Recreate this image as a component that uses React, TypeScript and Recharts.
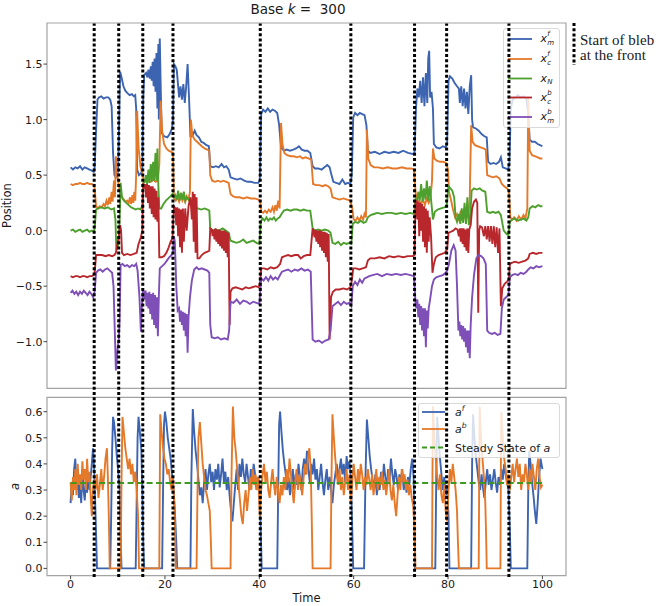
import React from 'react';
import { LineChart, Line, XAxis, YAxis, ReferenceLine, ReferenceArea, Legend } from 'recharts';

type P = [number, number];

const eventTimes = [5.0, 10.2, 15.3, 21.7, 40.2, 59.4, 72.9, 79.7, 92.9];
const timeTicks = [0, 20, 40, 60, 80, 100];
const positionTicks = [-1, -0.5, 0, 0.5, 1, 1.5];
const aTicks = [0, 0.1, 0.2, 0.3, 0.4, 0.5, 0.6];
const steadyStateA = 0.327;
const steadyStateSpan = [0, 100];

// x_m^f
const xmf: P[] = [[0,0.57],[0.5,0.55],[1,0.57],[1.5,0.56],[2,0.58],[2.5,0.55],[3,0.57],[3.5,0.56],[4,0.55],[4.5,0.54],[4.9,0.53],[5.1,0.57],[5.4,0.9],[5.7,1.18],[6,1.2],[6.5,1.21],[7,1.19],[7.5,1.2],[8,1.2],[8.4,1.18],[8.7,1.12],[9,0.7],[9.3,0.5],[9.6,0.48],[10,0.52],[10.1,0.58],[10.3,1.0],[10.5,1.43],[10.8,1.38],[11.2,1.3],[11.6,1.26],[12,1.24],[12.5,1.22],[13,1.23],[13.4,1.21],[13.7,1.22],[13.9,1.1],[14.1,0.55],[14.5,0.5],[15,0.52],[15.2,0.56],[15.4,1.2],[15.6,1.4],[16,1.42],[16.3,1.38],[16.5,1.45],[16.8,1.37],[17,1.48],[17.2,1.35],[17.4,1.52],[17.6,1.3],[17.8,1.55],[18,1.25],[18.2,1.6],[18.4,1.1],[18.6,1.68],[18.7,1.0],[18.9,1.73],[19.1,1.3],[19.3,0.88],[19.8,0.85],[20.5,0.84],[21,0.87],[21.5,0.92],[21.7,1.0],[21.9,1.5],[22.2,1.48],[22.5,1.45],[22.8,1.3],[23,1.2],[23.3,1.3],[23.6,1.18],[23.9,1.32],[24.2,1.15],[24.5,1.3],[24.8,1.5],[25.1,1.2],[25.4,0.85],[25.8,0.85],[26.3,0.9],[26.7,0.86],[27.2,0.84],[27.7,0.8],[28.2,0.79],[28.8,0.77],[29.3,0.76],[29.6,0.58],[30.2,0.57],[30.8,0.58],[31.4,0.57],[32,0.6],[32.5,0.57],[33,0.58],[33.5,0.55],[33.9,0.48],[34.5,0.47],[35.3,0.46],[36,0.47],[36.8,0.45],[37.5,0.44],[38.2,0.44],[39,0.43],[39.8,0.43],[40.1,0.46],[40.4,1.05],[40.8,1.09],[41.3,1.07],[41.8,1.1],[42.3,1.07],[42.8,1.09],[43.3,1.08],[43.8,1.06],[44.2,0.95],[44.6,0.75],[45.2,0.72],[45.8,0.73],[46.5,0.72],[47.2,0.73],[47.8,0.74],[48.4,0.76],[49,0.73],[49.6,0.72],[50.2,0.72],[50.8,0.7],[51.3,0.58],[51.8,0.56],[52.5,0.56],[53.2,0.55],[53.8,0.57],[54.4,0.59],[54.9,0.57],[55.3,0.5],[55.7,0.44],[56.3,0.43],[57,0.42],[57.6,0.46],[58.2,0.42],[58.8,0.43],[59.3,0.42],[59.6,0.5],[59.9,1.02],[60.3,1.06],[60.8,1.04],[61.3,1.06],[61.8,1.05],[62.3,1.04],[62.7,0.95],[63,0.72],[63.5,0.7],[64.5,0.71],[65.5,0.69],[66.5,0.71],[67.5,0.7],[68.5,0.71],[69.5,0.7],[70.5,0.72],[71.5,0.7],[72.5,0.69],[72.9,0.7],[73.2,1.1],[73.5,1.28],[73.8,1.2],[74.1,1.35],[74.4,1.15],[74.7,1.38],[75,1.12],[75.3,1.42],[75.6,1.15],[75.8,1.55],[76,1.62],[76.2,1.2],[76.5,1.25],[76.8,1.1],[77,0.78],[77.5,0.75],[78.2,0.74],[78.9,0.76],[79.5,0.75],[79.8,0.78],[80.1,1.35],[80.4,1.39],[80.9,1.37],[81.4,1.33],[81.9,1.3],[82.3,1.28],[82.5,1.15],[82.8,1.3],[83.1,1.12],[83.4,1.28],[83.7,1.1],[84,1.25],[84.3,1.05],[84.6,1.3],[84.9,1.4],[85.1,1.0],[85.3,0.93],[85.9,0.92],[86.5,0.9],[87.1,0.87],[87.7,0.85],[88.2,0.84],[88.5,0.62],[89,0.6],[89.6,0.61],[90.2,0.6],[90.8,0.62],[91.2,0.66],[91.6,0.57],[92.2,0.56],[92.7,0.55],[93,0.6],[93.3,1.1],[93.7,1.18],[94.2,1.2],[94.8,1.22],[95.4,1.2],[96,1.21],[96.6,1.19],[97,1.05],[97.3,0.82],[97.8,0.8],[98.4,0.8],[99,0.78],[99.5,0.77],[100,0.76]];

// x_c^f
const xcf: P[] = [[0,0.42],[0.5,0.41],[1,0.42],[1.5,0.42],[2,0.43],[2.5,0.42],[3,0.42],[3.5,0.43],[4,0.42],[4.5,0.42],[4.9,0.41],[5.1,0.38],[5.4,0.22],[5.8,0.2],[6.2,0.22],[6.6,0.21],[7,0.24],[7.3,0.22],[7.6,0.27],[7.9,0.23],[8.2,0.3],[8.4,0.24],[8.7,0.35],[8.9,0.26],[9.2,0.45],[9.4,0.3],[9.6,0.67],[9.9,0.5],[10.2,0.41],[10.5,0.34],[10.9,0.3],[11.3,0.28],[11.7,0.26],[12,0.27],[12.3,0.25],[12.6,0.3],[12.8,0.24],[13.1,0.32],[13.3,0.25],[13.5,0.35],[13.7,0.27],[13.9,0.5],[14.1,1.08],[14.4,0.75],[14.8,0.58],[15.2,0.52],[15.5,0.45],[16,0.44],[16.5,0.45],[17,0.44],[17.5,0.46],[18,0.44],[18.5,0.45],[18.8,0.6],[19.1,1.17],[19.4,0.9],[19.8,0.78],[20.3,0.74],[20.8,0.72],[21.3,0.71],[21.7,0.7],[21.9,0.3],[22.3,0.27],[22.7,0.3],[23,0.26],[23.4,0.32],[23.7,0.27],[24,0.3],[24.3,0.26],[24.6,0.31],[25,0.28],[25.3,0.35],[25.5,1.0],[25.8,0.86],[26.3,0.82],[26.8,0.8],[27.3,0.78],[27.8,0.76],[28.4,0.74],[29,0.73],[29.4,0.72],[29.6,0.5],[30,0.45],[30.6,0.44],[31.2,0.45],[31.8,0.44],[32.4,0.45],[33,0.44],[33.5,0.43],[33.9,0.33],[34.4,0.31],[35,0.3],[35.8,0.3],[36.6,0.29],[37.4,0.3],[38.2,0.29],[39,0.29],[39.8,0.28],[40.2,0.26],[40.4,0.17],[40.8,0.16],[41.2,0.18],[41.6,0.16],[42,0.19],[42.4,0.17],[42.8,0.21],[43.1,0.17],[43.4,0.23],[43.7,0.18],[44,0.27],[44.3,0.2],[44.6,0.97],[44.9,0.78],[45.3,0.7],[45.9,0.68],[46.6,0.67],[47.3,0.67],[48,0.66],[48.6,0.67],[49.2,0.65],[49.8,0.66],[50.4,0.65],[51,0.64],[51.4,0.42],[52,0.41],[52.7,0.41],[53.4,0.4],[54,0.41],[54.6,0.4],[55.1,0.38],[55.5,0.3],[56.2,0.29],[57,0.28],[57.8,0.29],[58.6,0.28],[59.3,0.27],[59.7,0.2],[60,0.1],[60.4,0.09],[60.8,0.12],[61.2,0.09],[61.6,0.13],[62,0.1],[62.3,0.15],[62.6,0.12],[62.8,0.91],[63.1,0.65],[63.6,0.59],[64.3,0.57],[65.2,0.57],[66.2,0.56],[67.2,0.57],[68.2,0.56],[69.2,0.56],[70.2,0.57],[71.2,0.56],[72.2,0.56],[72.8,0.55],[73.1,0.35],[73.5,0.25],[73.9,0.27],[74.3,0.24],[74.7,0.28],[75.1,0.23],[75.5,0.29],[75.9,0.25],[76.3,0.3],[76.6,0.45],[76.8,0.74],[77.1,0.65],[77.6,0.63],[78.3,0.62],[79,0.62],[79.6,0.61],[80,0.55],[80.2,0.35],[80.6,0.28],[81,0.2],[81.5,0.12],[81.9,0.15],[82.3,0.1],[82.7,0.18],[83,0.09],[83.4,0.2],[83.7,0.1],[84,0.24],[84.3,0.11],[84.6,0.3],[84.9,0.95],[85.2,0.8],[85.7,0.77],[86.3,0.76],[86.9,0.75],[87.5,0.74],[88,0.73],[88.3,0.5],[88.8,0.49],[89.5,0.48],[90.2,0.49],[90.9,0.47],[91.4,0.42],[91.9,0.4],[92.5,0.38],[92.9,0.36],[93.2,0.12],[93.6,0.1],[94,0.12],[94.5,0.09],[95,0.13],[95.5,0.1],[96,0.14],[96.4,0.11],[96.8,0.2],[97,1.2],[97.3,0.72],[97.8,0.68],[98.4,0.67],[99,0.66],[99.5,0.65],[100,0.65]];

// x_N
const xn: P[] = [[0,0.0],[0.5,0.01],[1,-0.01],[1.5,0.0],[2,0.01],[2.5,-0.01],[3,0.0],[3.5,0.01],[4,-0.01],[4.5,0.0],[4.9,-0.01],[5.1,0.02],[5.4,0.19],[5.8,0.2],[6.5,0.21],[7.2,0.2],[7.9,0.21],[8.6,0.19],[9.2,0.2],[9.5,0.1],[9.7,-0.17],[10.2,-0.12],[10.4,0.1],[10.6,0.43],[10.9,0.3],[11.3,0.27],[11.8,0.25],[12.3,0.23],[12.8,0.21],[13.3,0.2],[13.8,0.19],[14.3,0.2],[14.8,0.19],[15.2,0.22],[15.4,0.43],[15.7,0.44],[16,0.5],[16.2,0.42],[16.5,0.55],[16.7,0.43],[17,0.6],[17.2,0.44],[17.5,0.62],[17.7,0.45],[18,0.7],[18.2,0.45],[18.4,0.74],[18.6,0.4],[18.8,0.2],[19.2,0.2],[19.7,0.24],[20.2,0.27],[20.7,0.29],[21.2,0.31],[21.6,0.33],[21.9,0.3],[22.2,0.32],[22.5,0.28],[22.8,0.36],[23.1,0.27],[23.4,0.34],[23.7,0.28],[24,0.35],[24.3,0.27],[24.6,0.3],[25,0.28],[25.4,0.26],[25.7,0.21],[26.3,0.2],[27,0.2],[27.7,0.19],[28.4,0.2],[29,0.19],[29.4,0.18],[29.6,0.02],[30.2,0.0],[30.8,0.01],[31.5,0.0],[32.2,0.02],[32.9,0.0],[33.5,-0.02],[33.9,-0.09],[34.5,-0.1],[35.2,-0.11],[35.9,-0.1],[36.6,-0.08],[37.3,-0.11],[38,-0.1],[38.7,-0.09],[39.4,-0.11],[40,-0.12],[40.3,0.08],[40.7,0.11],[41.1,0.09],[41.5,0.12],[41.9,0.09],[42.3,0.11],[42.7,0.1],[43.1,0.12],[43.5,0.09],[43.9,0.11],[44.3,0.12],[44.7,0.15],[45.2,0.18],[45.9,0.19],[46.6,0.18],[47.3,0.19],[48,0.19],[48.7,0.18],[49.4,0.19],[50.1,0.18],[50.8,0.18],[51.3,0.02],[51.8,0.0],[52.5,0.01],[53.2,0.0],[53.9,0.01],[54.6,0.0],[55.1,-0.02],[55.5,-0.11],[56.1,-0.12],[56.7,-0.1],[57.3,-0.13],[57.9,-0.11],[58.5,-0.12],[59.1,-0.11],[59.5,-0.12],[59.8,0.06],[60.3,0.08],[60.9,0.07],[61.5,0.09],[62.1,0.07],[62.6,0.08],[63,0.12],[63.6,0.14],[64.3,0.15],[65,0.16],[66,0.15],[67,0.16],[68,0.16],[69,0.15],[70,0.16],[71,0.15],[72,0.16],[72.8,0.15],[73.1,0.28],[73.4,0.26],[73.7,0.35],[74,0.27],[74.3,0.42],[74.6,0.26],[74.9,0.38],[75.2,0.28],[75.5,0.45],[75.8,0.27],[76.1,0.4],[76.4,0.28],[76.8,0.1],[77.2,0.17],[77.8,0.19],[78.5,0.2],[79.2,0.21],[79.7,0.22],[80.1,0.4],[80.5,0.38],[80.9,0.36],[81.3,0.3],[81.6,0.12],[81.9,0.08],[82.3,0.15],[82.6,0.06],[82.9,0.2],[83.2,0.07],[83.5,0.25],[83.8,0.06],[84.1,0.3],[84.4,0.05],[84.7,0.12],[85,0.36],[85.5,0.38],[86.1,0.37],[86.7,0.38],[87.3,0.36],[87.9,0.35],[88.3,0.17],[88.9,0.16],[89.5,0.17],[90.1,0.16],[90.7,0.17],[91.2,0.14],[91.8,0.0],[92.4,-0.03],[92.8,-0.04],[93.1,0.08],[93.6,0.1],[94.2,0.11],[94.8,0.09],[95.4,0.1],[96,0.11],[96.6,0.09],[97,0.12],[97.3,0.2],[97.9,0.22],[98.5,0.21],[99.1,0.23],[99.6,0.22],[100,0.22]];

// x_c^b
const xcb: P[] = [[0,-0.41],[0.5,-0.42],[1,-0.41],[1.5,-0.41],[2,-0.42],[2.5,-0.41],[3,-0.41],[3.5,-0.42],[4,-0.41],[4.5,-0.41],[4.9,-0.4],[5.1,-0.38],[5.4,-0.22],[6,-0.22],[6.7,-0.22],[7.4,-0.23],[8.1,-0.22],[8.8,-0.23],[9.3,-0.22],[9.6,-0.2],[9.9,-0.12],[10.2,-0.06],[10.5,0.05],[10.7,0.0],[10.9,-0.2],[11.3,-0.22],[12,-0.21],[12.7,-0.22],[13.4,-0.21],[14,-0.2],[14.4,-0.12],[14.9,-0.06],[15.2,0.0],[15.4,0.43],[15.6,0.38],[15.8,0.42],[16,0.3],[16.2,0.42],[16.4,0.25],[16.6,0.41],[16.8,0.2],[17,0.4],[17.2,0.15],[17.4,0.4],[17.6,0.12],[17.8,0.38],[18,0.1],[18.2,0.36],[18.4,0.08],[18.6,0.3],[18.8,-0.24],[19.3,-0.24],[19.8,-0.23],[20.3,-0.2],[20.8,-0.15],[21.2,-0.1],[21.6,-0.07],[21.9,0.22],[22.2,0.2],[22.4,0.05],[22.6,0.21],[22.8,-0.05],[23,0.2],[23.2,-0.15],[23.4,0.19],[23.6,-0.2],[23.8,0.2],[24,-0.1],[24.3,0.2],[24.6,0.0],[25,0.22],[25.4,0.3],[25.7,0.1],[25.9,0.35],[26.1,-0.1],[26.3,0.33],[26.5,-0.2],[26.7,0.3],[26.9,-0.25],[27.3,-0.25],[27.8,-0.22],[28.4,-0.2],[29,-0.19],[29.4,-0.18],[29.6,0.02],[29.9,0.01],[30.1,-0.05],[30.3,0.01],[30.5,-0.08],[30.7,0.02],[30.9,-0.1],[31.1,0.01],[31.3,-0.12],[31.5,0.01],[31.7,-0.14],[31.9,0.0],[32.1,-0.16],[32.3,0.0],[32.5,-0.18],[32.7,0.0],[32.9,-0.2],[33.1,-0.01],[33.3,-0.24],[33.5,-0.02],[33.7,-0.85],[33.9,-0.55],[34.3,-0.52],[35,-0.51],[35.7,-0.52],[36.4,-0.53],[37.1,-0.51],[37.8,-0.52],[38.5,-0.51],[39.2,-0.5],[39.9,-0.51],[40.2,-0.45],[40.4,-0.34],[41,-0.34],[41.7,-0.35],[42.4,-0.33],[43.1,-0.34],[43.8,-0.33],[44.4,-0.3],[44.8,-0.24],[45.4,-0.23],[46.1,-0.22],[46.8,-0.23],[47.5,-0.22],[48.2,-0.22],[48.8,-0.25],[49.4,-0.23],[50.1,-0.22],[50.8,-0.22],[51.3,0.02],[51.5,0.0],[51.7,-0.06],[51.9,0.01],[52.1,-0.1],[52.3,0.0],[52.5,-0.12],[52.7,0.0],[52.9,-0.15],[53.1,0.0],[53.3,-0.18],[53.5,-0.01],[53.7,-0.2],[53.9,-0.01],[54.1,-0.24],[54.3,-0.02],[54.5,-0.28],[54.7,-0.03],[54.9,-0.98],[55.2,-0.6],[55.6,-0.55],[56.2,-0.53],[57,-0.53],[57.8,-0.52],[58.6,-0.53],[59.3,-0.51],[59.6,-0.45],[59.9,-0.34],[60.5,-0.34],[61.2,-0.35],[61.9,-0.34],[62.6,-0.33],[63,-0.27],[63.5,-0.25],[64.5,-0.25],[65.5,-0.24],[66.5,-0.25],[67.5,-0.23],[68.5,-0.24],[69.5,-0.23],[70.5,-0.24],[71.5,-0.23],[72.5,-0.23],[72.9,-0.22],[73.1,0.25],[73.3,0.27],[73.5,0.1],[73.7,0.26],[73.9,-0.05],[74.1,0.25],[74.3,0.0],[74.5,0.24],[74.7,-0.1],[74.9,0.22],[75.1,-0.15],[75.3,0.2],[75.5,-0.2],[75.7,0.18],[75.9,-0.1],[76.1,0.12],[76.4,-0.05],[76.7,-0.38],[77,-0.3],[77.4,-0.24],[78,-0.22],[78.7,-0.21],[79.3,-0.2],[79.8,-0.17],[80.1,-0.02],[80.6,-0.01],[81.1,0.0],[81.6,0.02],[82,0.01],[82.3,-0.05],[82.5,0.02],[82.7,-0.1],[82.9,0.02],[83.1,-0.12],[83.3,0.02],[83.5,-0.15],[83.7,0.01],[83.9,-0.18],[84.1,0.02],[84.3,-0.2],[84.5,0.01],[84.8,0.05],[85.1,0.2],[85.5,0.26],[85.9,0.28],[86.2,0.25],[86.4,-0.74],[86.6,0.0],[86.8,0.04],[87.2,0.03],[87.6,-0.05],[87.9,0.04],[88.2,-0.08],[88.5,0.04],[88.8,-0.1],[89.1,0.04],[89.4,-0.12],[89.7,0.04],[90,-0.15],[90.3,0.03],[90.6,-0.2],[90.9,0.02],[91.2,-0.68],[91.5,-0.52],[92,-0.48],[92.5,-0.46],[92.9,-0.44],[93.1,-0.3],[93.5,-0.29],[94.2,-0.28],[95,-0.29],[95.7,-0.28],[96.4,-0.27],[97,-0.25],[97.3,-0.21],[98,-0.2],[98.7,-0.21],[99.3,-0.2],[100,-0.2]];

// x_m^b
const xmb: P[] = [[0,-0.56],[0.4,-0.54],[0.8,-0.57],[1.2,-0.55],[1.6,-0.58],[2,-0.55],[2.4,-0.57],[2.8,-0.54],[3.2,-0.56],[3.6,-0.58],[4,-0.55],[4.4,-0.57],[4.8,-0.6],[5.1,-0.55],[5.4,-0.38],[5.8,-0.36],[6.3,-0.35],[6.8,-0.37],[7.3,-0.35],[7.8,-0.34],[8.3,-0.36],[8.8,-0.38],[9.1,-0.5],[9.4,-0.95],[9.6,-1.26],[9.8,-1.15],[10,-1.04],[10.2,-1.0],[10.4,-0.8],[10.6,-0.31],[11,-0.3],[11.5,-0.32],[12,-0.31],[12.5,-0.33],[13,-0.31],[13.5,-0.32],[13.9,-0.3],[14.2,-0.36],[14.6,-0.6],[14.9,-0.91],[15.1,-0.7],[15.3,-0.55],[15.5,-0.55],[15.7,-0.62],[15.9,-0.54],[16.1,-0.68],[16.3,-0.56],[16.5,-0.7],[16.7,-0.55],[16.9,-0.75],[17.1,-0.57],[17.3,-0.8],[17.5,-0.56],[17.7,-0.85],[17.9,-0.58],[18.1,-0.88],[18.3,-0.6],[18.5,-0.95],[18.7,-0.6],[18.9,-0.34],[19.4,-0.32],[19.9,-0.3],[20.4,-0.27],[20.9,-0.24],[21.4,-0.22],[21.7,-0.2],[21.9,-0.05],[22.1,-0.1],[22.4,-0.5],[22.7,-0.72],[23,-0.7],[23.2,-0.82],[23.4,-0.72],[23.6,-0.85],[23.8,-0.73],[24,-0.9],[24.2,-0.74],[24.4,-0.95],[24.6,-0.75],[24.8,-1.1],[25,-0.78],[25.3,-0.6],[25.7,-0.45],[26.2,-0.35],[26.7,-0.33],[27.2,-0.35],[27.8,-0.34],[28.4,-0.35],[29,-0.36],[29.4,-0.38],[29.6,-0.85],[29.9,-0.96],[30.5,-0.97],[31.2,-0.96],[31.9,-0.98],[32.6,-0.97],[33.3,-0.98],[33.6,-0.9],[33.9,-0.64],[34.5,-0.65],[35.2,-0.62],[35.9,-0.66],[36.6,-0.63],[37.3,-0.64],[38,-0.66],[38.7,-0.64],[39.4,-0.65],[40,-0.66],[40.2,-0.55],[40.4,-0.43],[40.9,-0.45],[41.4,-0.42],[41.9,-0.45],[42.4,-0.41],[42.9,-0.44],[43.4,-0.42],[43.9,-0.44],[44.4,-0.4],[44.8,-0.37],[45.4,-0.36],[46.1,-0.35],[46.8,-0.37],[47.5,-0.35],[48.2,-0.36],[48.9,-0.34],[49.6,-0.36],[50.3,-0.35],[50.9,-0.37],[51.3,-0.98],[51.9,-1.0],[52.6,-0.99],[53.3,-1.01],[54,-0.99],[54.7,-0.98],[55.1,-0.9],[55.5,-0.68],[56.1,-0.66],[56.7,-0.64],[57.3,-0.67],[57.9,-0.64],[58.5,-0.66],[59.1,-0.65],[59.5,-0.68],[59.8,-0.5],[60.3,-0.46],[60.8,-0.49],[61.3,-0.44],[61.8,-0.47],[62.3,-0.43],[62.8,-0.42],[63.3,-0.41],[64,-0.4],[65,-0.39],[66,-0.41],[67,-0.39],[68,-0.4],[69,-0.39],[70,-0.4],[71,-0.39],[72,-0.4],[72.8,-0.41],[73.1,-0.65],[73.3,-0.7],[73.5,-0.62],[73.7,-0.78],[73.9,-0.66],[74.1,-0.85],[74.3,-0.68],[74.5,-0.9],[74.7,-0.7],[74.9,-0.95],[75.1,-0.7],[75.3,-1.05],[75.5,-0.72],[75.7,-0.88],[75.9,-0.7],[76.2,-0.62],[76.6,-0.5],[77,-0.44],[77.5,-0.42],[78.2,-0.41],[78.9,-0.4],[79.5,-0.38],[79.8,-0.36],[80.2,-0.3],[80.7,-0.18],[81.2,-0.13],[81.6,-0.18],[81.9,-0.5],[82.2,-0.9],[82.4,-0.82],[82.6,-0.95],[82.8,-0.85],[83,-0.98],[83.2,-0.86],[83.4,-1.0],[83.6,-0.88],[83.8,-1.05],[84,-0.9],[84.2,-1.1],[84.4,-0.9],[84.6,-1.15],[84.8,-0.85],[85.1,-0.6],[85.5,-0.4],[86,-0.25],[86.5,-0.22],[87,-0.23],[87.5,-0.25],[88,-0.3],[88.3,-0.9],[88.7,-0.92],[89.3,-0.93],[89.9,-0.92],[90.5,-0.94],[91.1,-0.93],[91.4,-0.7],[91.8,-0.62],[92.3,-0.6],[92.8,-0.58],[93.1,-0.42],[93.6,-0.4],[94.2,-0.39],[94.8,-0.4],[95.4,-0.38],[96,-0.39],[96.6,-0.37],[97,-0.35],[97.5,-0.33],[98.1,-0.34],[98.7,-0.32],[99.3,-0.33],[100,-0.32]];

// a^f
const af: P[] = [[0,0.25],[0.25,0.33],[0.5,0.28],[0.75,0.38],[1,0.42],[1.25,0.3],[1.5,0.36],[1.75,0.27],[2,0.32],[2.25,0.25],[2.5,0.38],[2.75,0.3],[3,0.26],[3.25,0.34],[3.5,0.29],[3.75,0.37],[4,0.3],[4.25,0.35],[4.5,0.4],[4.75,0.46],[5,0.38],[5.3,0.2],[5.6,0.0],[8.4,0.0],[8.6,0.2],[8.8,0.45],[9,0.58],[9.2,0.56],[9.5,0.5],[9.8,0.43],[10.1,0.37],[10.4,0.3],[10.6,0.12],[10.8,0.0],[13.8,0.0],[14,0.25],[14.2,0.5],[14.4,0.58],[14.7,0.52],[15,0.45],[15.2,0.3],[15.4,0.1],[15.6,0.0],[19.4,0.0],[19.6,0.3],[19.8,0.55],[20,0.6],[20.3,0.56],[20.6,0.5],[20.9,0.46],[21.2,0.42],[21.5,0.36],[21.8,0.3],[22.1,0.22],[22.4,0.1],[22.6,0.0],[25.4,0.0],[25.6,0.35],[25.9,0.61],[26.2,0.52],[26.5,0.45],[26.8,0.4],[27.1,0.34],[27.4,0.28],[27.7,0.31],[28,0.25],[28.3,0.33],[28.6,0.38],[28.9,0.3],[29.2,0.36],[29.5,0.4],[29.8,0.33],[30.1,0.37],[30.4,0.3],[30.7,0.38],[31,0.34],[31.3,0.4],[31.6,0.31],[31.9,0.36],[32.2,0.42],[32.5,0.33],[32.8,0.37],[33.1,0.3],[33.4,0.35],[33.7,0.28],[34,0.22],[34.3,0.18],[34.6,0.25],[34.9,0.32],[35.2,0.38],[35.5,0.3],[35.8,0.4],[36.1,0.35],[36.4,0.42],[36.7,0.36],[37,0.33],[37.3,0.4],[37.6,0.35],[37.9,0.3],[38.2,0.38],[38.5,0.33],[38.8,0.4],[39.1,0.36],[39.4,0.3],[39.7,0.35],[40,0.32],[40.3,0.15],[40.5,0.0],[43.8,0.0],[44,0.3],[44.2,0.55],[44.4,0.6],[44.7,0.52],[45,0.45],[45.3,0.4],[45.6,0.36],[45.9,0.3],[46.2,0.35],[46.5,0.28],[46.8,0.33],[47.1,0.38],[47.4,0.3],[47.7,0.36],[48,0.32],[48.3,0.4],[48.6,0.35],[48.9,0.3],[49.2,0.38],[49.5,0.42],[49.8,0.36],[50.1,0.45],[50.4,0.38],[50.7,0.33],[51,0.4],[51.3,0.36],[51.6,0.42],[51.9,0.34],[52.2,0.38],[52.5,0.3],[52.8,0.35],[53.1,0.4],[53.4,0.33],[53.7,0.28],[54,0.34],[54.3,0.38],[54.6,0.3],[54.9,0.35],[55.2,0.3],[55.5,0.25],[55.8,0.32],[56.1,0.36],[56.4,0.4],[56.7,0.34],[57,0.38],[57.3,0.42],[57.6,0.36],[57.9,0.4],[58.2,0.33],[58.5,0.43],[58.8,0.38],[59.1,0.41],[59.4,0.35],[59.7,0.15],[59.9,0.0],[62.2,0.0],[62.5,0.35],[62.8,0.57],[63.1,0.5],[63.4,0.43],[63.7,0.38],[64,0.34],[64.3,0.3],[64.6,0.36],[64.9,0.28],[65.2,0.33],[65.5,0.3],[65.8,0.37],[66.1,0.32],[66.4,0.4],[66.7,0.35],[67,0.31],[67.3,0.38],[67.6,0.34],[67.9,0.42],[68.2,0.36],[68.5,0.32],[68.8,0.38],[69.1,0.35],[69.4,0.3],[69.7,0.36],[70,0.33],[70.3,0.38],[70.6,0.3],[70.9,0.34],[71.2,0.29],[71.5,0.35],[71.8,0.32],[72.1,0.38],[72.4,0.42],[72.7,0.35],[72.9,0.15],[73,0.0],[77.3,0.0],[77.5,0.35],[77.7,0.58],[78,0.5],[78.3,0.42],[78.6,0.36],[78.9,0.3],[79.2,0.35],[79.5,0.28],[79.8,0.32],[80.1,0.2],[80.3,0.0],[84.9,0.0],[85.1,0.4],[85.3,0.59],[85.6,0.5],[85.9,0.43],[86.2,0.38],[86.5,0.33],[86.8,0.3],[87.1,0.36],[87.4,0.31],[87.7,0.27],[88,0.33],[88.3,0.38],[88.6,0.32],[88.9,0.36],[89.2,0.3],[89.5,0.34],[89.8,0.38],[90.1,0.33],[90.4,0.29],[90.7,0.35],[91,0.32],[91.3,0.38],[91.6,0.34],[91.9,0.4],[92.2,0.36],[92.5,0.33],[92.8,0.3],[93.1,0.15],[93.3,0.0],[96.8,0.0],[97,0.3],[97.2,0.45],[97.5,0.4],[97.8,0.33],[98.1,0.28],[98.4,0.22],[98.7,0.17],[99,0.25],[99.3,0.35],[99.6,0.42],[100,0.38]];

// a^b
const ab: P[] = [[0,0.33],[0.25,0.26],[0.5,0.35],[0.75,0.3],[1,0.38],[1.25,0.28],[1.5,0.4],[1.75,0.32],[2,0.36],[2.25,0.3],[2.5,0.41],[2.75,0.34],[3,0.38],[3.25,0.3],[3.5,0.42],[3.75,0.33],[4,0.37],[4.25,0.28],[4.5,0.2],[4.75,0.3],[5,0.34],[5.3,0.3],[5.6,0.36],[5.9,0.27],[6.2,0.32],[6.5,0.38],[6.8,0.3],[7.1,0.35],[7.4,0.42],[7.7,0.46],[7.9,0.35],[8.1,0.2],[8.3,0.0],[10.6,0.0],[10.8,0.35],[11,0.58],[11.3,0.52],[11.6,0.46],[11.9,0.42],[12.2,0.38],[12.5,0.42],[12.8,0.36],[13.1,0.4],[13.4,0.33],[13.7,0.37],[14,0.3],[14.3,0.2],[14.5,0.0],[18.8,0.0],[18.9,0.3],[19,0.59],[19.3,0.52],[19.6,0.46],[19.9,0.42],[20.2,0.4],[20.5,0.36],[20.8,0.38],[21.1,0.33],[21.4,0.3],[21.7,0.35],[22,0.25],[22.3,0.0],[26.7,0.0],[26.9,0.3],[27.1,0.5],[27.4,0.56],[27.7,0.48],[28,0.4],[28.3,0.35],[28.6,0.3],[28.9,0.28],[29.2,0.25],[29.5,0.22],[29.7,0.12],[29.9,0.0],[33.9,0.0],[34.1,0.35],[34.4,0.62],[34.7,0.5],[35,0.45],[35.3,0.38],[35.6,0.32],[35.9,0.26],[36.2,0.2],[36.5,0.17],[36.8,0.25],[37.1,0.3],[37.4,0.22],[37.7,0.28],[38,0.35],[38.3,0.3],[38.6,0.38],[38.9,0.32],[39.2,0.36],[39.5,0.3],[39.8,0.35],[40.1,0.2],[40.4,0.3],[40.7,0.36],[41,0.4],[41.3,0.33],[41.6,0.37],[41.9,0.3],[42.2,0.27],[42.5,0.33],[42.8,0.38],[43.1,0.32],[43.4,0.28],[43.7,0.35],[44,0.3],[44.3,0.25],[44.6,0.32],[44.9,0.28],[45.2,0.35],[45.5,0.3],[45.8,0.38],[46.1,0.33],[46.4,0.42],[46.7,0.36],[47,0.3],[47.3,0.25],[47.6,0.33],[47.9,0.38],[48.2,0.3],[48.5,0.36],[48.8,0.32],[49.1,0.28],[49.4,0.35],[49.7,0.4],[50,0.36],[50.3,0.42],[50.6,0.46],[50.9,0.38],[51.1,0.2],[51.3,0.0],[55.1,0.0],[55.3,0.35],[55.5,0.59],[55.8,0.5],[56.1,0.42],[56.4,0.36],[56.7,0.32],[57,0.38],[57.3,0.3],[57.6,0.35],[57.9,0.28],[58.2,0.33],[58.5,0.38],[58.8,0.3],[59.1,0.36],[59.4,0.25],[59.7,0.33],[60,0.4],[60.3,0.35],[60.6,0.3],[60.9,0.38],[61.2,0.33],[61.5,0.4],[61.8,0.36],[62.1,0.3],[62.4,0.35],[62.7,0.32],[63,0.38],[63.3,0.34],[63.6,0.3],[63.9,0.36],[64.2,0.28],[64.5,0.33],[64.8,0.38],[65.1,0.3],[65.4,0.35],[65.7,0.32],[66,0.37],[66.3,0.3],[66.6,0.34],[66.9,0.28],[67.2,0.33],[67.5,0.38],[67.8,0.3],[68.1,0.26],[68.4,0.32],[68.7,0.25],[69,0.2],[69.3,0.28],[69.6,0.35],[69.9,0.3],[70.2,0.38],[70.5,0.33],[70.8,0.36],[71.1,0.3],[71.4,0.34],[71.7,0.28],[72,0.32],[72.3,0.27],[72.6,0.24],[72.9,0.15],[73.1,0.0],[76.6,0.0],[76.7,0.35],[76.8,0.62],[77.1,0.5],[77.4,0.42],[77.7,0.35],[78,0.3],[78.3,0.36],[78.6,0.28],[78.9,0.25],[79.2,0.32],[79.5,0.22],[79.8,0.18],[80.1,0.3],[80.4,0.38],[80.7,0.33],[81,0.4],[81.3,0.35],[81.6,0.3],[81.9,0.22],[82.1,0.1],[82.3,0.0],[86.5,0.0],[86.6,0.35],[86.7,0.62],[87,0.5],[87.3,0.42],[87.6,0.35],[87.9,0.25],[88.1,0.1],[88.2,0.0],[91.1,0.0],[91.2,0.4],[91.3,0.6],[91.6,0.5],[91.9,0.42],[92.2,0.38],[92.5,0.32],[92.8,0.36],[93.1,0.3],[93.4,0.35],[93.7,0.4],[94,0.33],[94.3,0.38],[94.6,0.42],[94.9,0.35],[95.2,0.4],[95.5,0.3],[95.8,0.36],[96.1,0.33],[96.4,0.4],[96.7,0.36],[97,0.3],[97.3,0.38],[97.6,0.33],[97.9,0.4],[98.2,0.35],[98.5,0.3],[98.8,0.38],[99.1,0.42],[99.4,0.35],[99.7,0.31],[100,0.32]];

const rows = (p: P[]) => p.map(([t, v]) => ({ t, v }));
const steadyRows = steadyStateSpan.map((t) => ({ t, v: steadyStateA }));
const eventRows = eventTimes.map((t) => ({ t, v: 0.5 }));

const W = 660;
const H = 606;
const PLOT_R = 566;
const FONT = '"DejaVu Sans", Verdana, sans-serif';
const C = {
  blue: '#3c64b1',
  orange: '#e5792a',
  green: '#4da02d',
  red: '#b8272c',
  purple: '#7f4fb8',
  ss: '#3b9a1f',
  frame: '#a3a3a3',
  text: '#1a1a1a',
};

const fmt = (v: number) => (v < 0 ? '\u2212' : '') + Math.abs(v).toFixed(1);
const tickStyle = { fill: C.text, fontSize: 11, fontFamily: FONT };

const topItems = [
  { color: C.blue, sup: 'f', sub: 'm' },
  { color: C.orange, sup: 'f', sub: 'c' },
  { color: C.green, sup: '', sub: 'N' },
  { color: C.red, sup: 'b', sub: 'c' },
  { color: C.purple, sup: 'b', sub: 'm' },
];
const topRowY = [11, 31, 50.5, 69.5, 89];

// one text per script so that the stacked super/subscripts are separate boxes
const TopLegend = () => (
  <div style={{ width: 57, height: 100, background: 'rgba(255,255,255,0.8)', border: '1px solid #d9d9d9', borderRadius: 3, boxSizing: 'border-box' }}>
    <svg width={57} height={100} style={{ position: 'absolute', left: 0, top: 0 }}>
      {topItems.map((it, i) => {
        const cy = topRowY[i];
        return (
          <g key={i} fontFamily={FONT} fontStyle="italic" fill={C.text}>
            <line x1={5} x2={29} y1={cy} y2={cy} stroke={it.color} strokeWidth={1.8} />
            <text x={37.5} y={cy + 3} fontSize={11}>x</text>
            {it.sup ? <text x={44.3} y={cy - 2.6} fontSize={7}>{it.sup}</text> : null}
            <text x={44.3} y={it.sup ? cy + 6.3 : cy + 5.5} fontSize={7}>{it.sub}</text>
          </g>
        );
      })}
    </svg>
  </div>
);

const BottomLegend = () => (
  <div style={{ width: 142, height: 55, background: 'rgba(255,255,255,0.8)', border: '1px solid #d9d9d9', borderRadius: 3, boxSizing: 'border-box' }}>
    <svg width={142} height={55} style={{ position: 'absolute', left: 0, top: 0 }}>
      <g fontFamily={FONT} fill={C.text}>
        <line x1={4} x2={27} y1={9} y2={9} stroke={C.blue} strokeWidth={1.8} />
        <text x={37} y={12.5} fontSize={11} fontStyle="italic">a<tspan fontSize={7.7} dy={-5}>f</tspan></text>
        <line x1={4} x2={27} y1={26} y2={26} stroke={C.orange} strokeWidth={1.8} />
        <text x={37} y={29.5} fontSize={11} fontStyle="italic">a<tspan fontSize={7.7} dy={-5}>b</tspan></text>
        <line x1={4} x2={27} y1={44.5} y2={44.5} stroke={C.ss} strokeWidth={1.8} strokeDasharray="5 3" />
        <text x={37} y={48.5} fontSize={11}>Steady State of <tspan fontStyle="italic">a</tspan></text>
      </g>
    </svg>
  </div>
);

const lineProps = { type: 'linear' as const, dot: false, activeDot: false, isAnimationActive: false, strokeWidth: 1.9 };

export default function App() {
  return (
    <div style={{ position: 'absolute', left: 0, top: 0, width: W, height: H, background: '#fff' }}>
      <svg width={W} height={70} style={{ position: 'absolute', left: 0, top: 0 }}>
        <text x={298} y={13.5} textAnchor="middle" fontFamily={FONT} fontSize={13.5} fill={C.text}>
          Base <tspan fontStyle="italic">k</tspan>{'\u00a0=\u00a0\u00a0300'}
        </text>
        <line x1={574} x2={574} y1={23} y2={65} stroke="#000" strokeWidth={3} strokeDasharray="3 2.2" />
        <text x={580} y={45} fontFamily='"Liberation Serif", serif' fontSize={15} fill={C.text}>Start of bleb</text>
        <text x={580} y={60} fontFamily='"Liberation Serif", serif' fontSize={15} fill={C.text}>at the front</text>
      </svg>

      <div style={{ position: 'absolute', left: 0, top: 0 }}>
        <LineChart width={W} height={H} margin={{ top: 23, right: W - PLOT_R, bottom: H - 388.3, left: 0 }}>
          <XAxis type="number" dataKey="t" domain={[-5, 105]} hide allowDataOverflow />
          <YAxis
            type="number"
            domain={[-1.42, 1.87]}
            ticks={positionTicks}
            interval={0}
            tickFormatter={fmt}
            width={47}
            axisLine={false}
            tickLine={{ stroke: '#444' }}
            tickSize={3.5}
            tickMargin={1}
            tick={tickStyle}
            allowDataOverflow
            label={{
              content: () => (
                <text x={11} y={205.5} transform="rotate(-90 11 205.5)" textAnchor="middle" fontFamily={FONT} fontSize={11.5} fill={C.text}>Position</text>
              ),
            }}
          />
          <ReferenceArea x1={-5} x2={105} y1={-1.42} y2={1.87} fill="none" stroke={C.frame} strokeWidth={1.2} ifOverflow="visible" />
          <Line {...lineProps} data={rows(xmf)} dataKey="v" stroke={C.blue} name="xmf" />
          <Line {...lineProps} data={rows(xcf)} dataKey="v" stroke={C.orange} name="xcf" />
          <Line {...lineProps} data={rows(xn)} dataKey="v" stroke={C.green} name="xN" />
          <Line {...lineProps} data={rows(xcb)} dataKey="v" stroke={C.red} name="xcb" />
          <Line {...lineProps} data={rows(xmb)} dataKey="v" stroke={C.purple} name="xmb" />
          <Legend content={<TopLegend />} layout="vertical" align="center" verticalAlign="middle" wrapperStyle={{ left: 503, top: 28, width: 57, height: 100 }} />
        </LineChart>
      </div>

      <div style={{ position: 'absolute', left: 0, top: 0 }}>
        <LineChart width={W} height={H} margin={{ top: 397.3, right: W - PLOT_R, bottom: 4.3, left: 0 }}>
          <XAxis
            type="number"
            dataKey="t"
            domain={[-5, 105]}
            ticks={timeTicks}
            interval={0}
            height={26}
            tickSize={3.5}
            tickMargin={0.5}
            axisLine={false}
            tickLine={{ stroke: '#444' }}
            tick={tickStyle}
            allowDataOverflow
            label={{
              content: () => (
                <text x={306.5} y={601.5} textAnchor="middle" fontFamily={FONT} fontSize={11.5} fill={C.text}>Time</text>
              ),
            }}
          />
          <YAxis
            type="number"
            domain={[-0.028, 0.655]}
            ticks={aTicks}
            interval={0}
            tickFormatter={fmt}
            width={47}
            axisLine={false}
            tickLine={{ stroke: '#444' }}
            tickSize={3.5}
            tickMargin={1}
            tick={tickStyle}
            allowDataOverflow
            label={{
              content: () => (
                <text x={18.5} y={486.5} transform="rotate(-90 18.5 486.5)" textAnchor="middle" fontFamily={FONT} fontStyle="italic" fontSize={11.5} fill={C.text}>a</text>
              ),
            }}
          />
          <ReferenceArea x1={-5} x2={105} y1={-0.028} y2={0.655} fill="none" stroke={C.frame} strokeWidth={1.2} ifOverflow="visible" />
          <Line {...lineProps} data={rows(af)} dataKey="v" stroke={C.blue} name="af" />
          <Line {...lineProps} data={rows(ab)} dataKey="v" stroke={C.orange} name="ab" />
          <Line {...lineProps} data={steadyRows} dataKey="v" stroke={C.ss} strokeDasharray="6 3.5" name="steady" />
          <Legend content={<BottomLegend />} layout="vertical" align="center" verticalAlign="middle" wrapperStyle={{ left: 418, top: 403.3, width: 142, height: 55 }} />
        </LineChart>
      </div>

      <div style={{ position: 'absolute', left: 0, top: 0, pointerEvents: 'none' }}>
        <LineChart width={W} height={H} data={eventRows} margin={{ top: 23.5, right: W - PLOT_R, bottom: 29, left: 47 }}>
          <XAxis type="number" dataKey="t" domain={[-5, 105]} hide allowDataOverflow />
          <YAxis type="number" domain={[0, 1]} hide allowDataOverflow />
          <Line dataKey="v" stroke="none" strokeWidth={0} dot={false} activeDot={false} isAnimationActive={false} legendType="none" />
          {eventTimes.map((t) => (
            <ReferenceLine key={t} x={t} stroke="#000" strokeWidth={3} strokeDasharray="3 2.2" ifOverflow="extendDomain" />
          ))}
        </LineChart>
      </div>
    </div>
  );
}
